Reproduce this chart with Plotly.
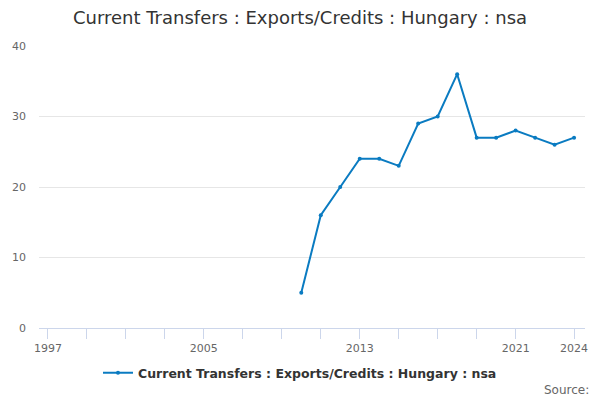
import plotly.graph_objects as go

years = [2010, 2011, 2012, 2013, 2014, 2015, 2016, 2017, 2018, 2019, 2020, 2021, 2022, 2023, 2024]
values = [5, 16, 20, 24, 24, 23, 29, 30, 36, 27, 27, 28, 27, 26, 27]
x_labels = [1997, 2005, 2013, 2021, 2024]
x_minor_ticks = [1997, 1999, 2001, 2003, 2005, 2007, 2009, 2011, 2013, 2015, 2017, 2019, 2021, 2024]
y_ticks = [0, 10, 20, 30, 40]
series_name = "Current Transfers : Exports/Credits : Hungary : nsa"
title_text = "Current Transfers : Exports/Credits : Hungary : nsa"

color = "#0a7bc1"
font = "DejaVu Sans, Verdana, sans-serif"

fig = go.Figure()
fig.add_trace(go.Scatter(
    x=years, y=values, mode="lines+markers", name=series_name,
    line=dict(color=color, width=2),
    marker=dict(color=color, size=4),
))

fig.update_layout(
    width=600, height=400,
    margin=dict(l=39, r=15, t=46, b=72),
    paper_bgcolor="white", plot_bgcolor="white",
    font=dict(family=font, color="#666666", size=11),
    title=dict(text=title_text, x=0.5, xanchor="center", y=0.955, yanchor="middle",
               font=dict(family=font, size=18, color="#333333")),
    showlegend=True,
    legend=dict(orientation="h", x=0.478, xanchor="center", y=-0.16, yanchor="middle",
                font=dict(family=font, size=12.5, color="#333333", weight="bold"),
                bgcolor="rgba(0,0,0,0)"),
    annotations=[dict(text="Source:", xref="paper", yref="paper", x=1.011, y=-0.22,
                      xanchor="right", yanchor="middle", showarrow=False,
                      font=dict(family=font, size=12, color="#666666"))],
)

fig.update_xaxes(
    range=[1996.54, 2024.56],
    tickmode="array", tickvals=x_labels, ticktext=[str(v) for v in x_labels],
    ticks="outside", ticklen=10, tickcolor="#ccd6eb", tickwidth=1,
    minor=dict(tickmode="array", tickvals=x_minor_ticks, ticks="outside", ticklen=10,
               tickcolor="#ccd6eb", tickwidth=1, showgrid=False),
    showgrid=False, zeroline=False,
    showline=True, linecolor="#ccd6eb", linewidth=1,
    tickfont=dict(family=font, size=11, color="#666666"),
)
fig.update_yaxes(
    range=[0, 40], tickmode="array", tickvals=y_ticks,
    showgrid=True, gridcolor="#e6e6e6", gridwidth=1,
    zeroline=False, showline=False, ticks="",
    ticklabelstandoff=12,
    tickfont=dict(family=font, size=11, color="#666666"),
)

fig.write_html("out.html", config={"displayModeBar": False},
               post_script="document.body.style.margin='0';document.body.style.overflow='hidden';")
